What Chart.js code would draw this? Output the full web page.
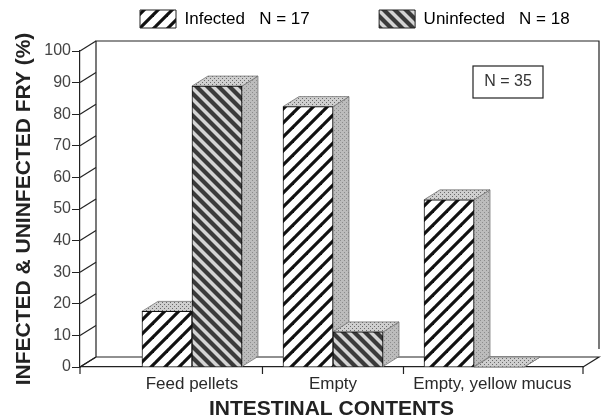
<!DOCTYPE html>
<html>
<head>
<meta charset="utf-8">
<style>
  html, body { margin: 0; padding: 0; background: #fff; }
  canvas { display: block; }
</style>
<script src="https://cdn.jsdelivr.net/npm/chart.js@4/dist/chart.umd.min.js"></script>
</head>
<body>
<canvas id="myChart" width="604" height="419"></canvas>
<script>
const categories = ['Feed pellets', 'Empty', 'Empty, yellow mucus'];
const infected = [17.6, 82.4, 52.9];
const uninfected = [88.9, 11.1, 0];
const seriesNames = ['Infected\u00a0\u00a0\u00a0N = 17', 'Uninfected\u00a0\u00a0\u00a0N = 18'];
const yTicks = [0, 10, 20, 30, 40, 50, 60, 70, 80, 90, 100];
const sampleNote = 'N = 35';

const fonte = '"Liberation Sans", Arial, sans-serif';
const dx = 16, dy = 10;

function hachura(periodo, desenha) {
    const c = document.createElement('canvas');
    c.width = c.height = periodo;
    desenha(c.getContext('2d'), periodo);
    return c.getContext('2d').createPattern(c, 'repeat');
}

function linhaDiag(g, p, cor, larg, sobe, desloc) {
    g.strokeStyle = cor;
    g.lineWidth = larg;
    // as linhas passam do ladrilho para nao deixar falhas nos cantos
    for (let k = -2 * p; k <= 2 * p; k += p) {
        g.beginPath();
        if (sobe) {
            g.moveTo(k + desloc - p, 2 * p);
            g.lineTo(k + desloc + 2 * p, -p);
        } else {
            g.moveTo(k + desloc - p, -p);
            g.lineTo(k + desloc + 2 * p, 2 * p);
        }
        g.stroke();
    }
}

const padraoInfected = hachura(14, (g, p) => {
    g.fillStyle = '#fff';
    g.fillRect(0, 0, p, p);
    linhaDiag(g, p, '#111', 3.2, true, 0);
});

const padraoUninfected = hachura(11, (g, p) => {
    g.fillStyle = '#d4d4d4';
    g.fillRect(0, 0, p, p);
    linhaDiag(g, p, '#3a3a3a', 4.2, false, 0);
});

function pontilhado(fundo, ponto) {
    return hachura(4, (g, p) => {
        g.fillStyle = fundo;
        g.fillRect(0, 0, p, p);
        g.fillStyle = ponto;
        g.fillRect(0, 0, 1, 1);
        g.fillRect(2, 2, 1, 1);
    });
}
const padraoTopo = pontilhado('#cfcfcf', '#6a6a6a');
const padraoLado = pontilhado('#bcbcbc', '#8c8c8c');

function poligono(ctx, pts, fill) {
    ctx.beginPath();
    pts.forEach((p, i) => i ? ctx.lineTo(p[0], p[1]) : ctx.moveTo(p[0], p[1]));
    ctx.closePath();
    ctx.fillStyle = fill;
    ctx.fill();
    ctx.lineWidth = 0.8;
    ctx.strokeStyle = '#777';
    ctx.stroke();
}

const caixa3d = {
    id: 'caixa3d',
    afterLayout(chart) {
        // a legenda fica deslocada em relacao ao centro do grafico
        chart.legend.left = 132;
        chart.legend.right = 604;
        chart.legend.top = 2;
    },
    beforeDatasetsDraw(chart) {
        const ctx = chart.ctx;
        const a = chart.chartArea;
        const x = chart.scales.x;
        ctx.save();
        ctx.strokeStyle = '#222';
        ctx.lineWidth = 1.2;

        // paredes do fundo e chao
        ctx.beginPath();
        ctx.moveTo(a.left + dx, a.bottom - dy);
        ctx.lineTo(a.left + dx, a.top - dy);
        ctx.lineTo(a.right + dx, a.top - dy);
        ctx.lineTo(a.right + dx, a.bottom - dy - 8);
        ctx.moveTo(a.left, a.bottom);
        ctx.lineTo(a.left + dx, a.bottom - dy);
        ctx.lineTo(a.right + dx, a.bottom - dy);
        ctx.lineTo(a.right, a.bottom);
        ctx.stroke();

        // diagonais de cada tick do eixo y
        const y = chart.scales.y;
        y.ticks.forEach(t => {
            const py = y.getPixelForValue(t.value);
            ctx.beginPath();
            ctx.moveTo(a.left, py);
            ctx.lineTo(a.left + dx, py - dy);
            ctx.stroke();
        });

        // marcas do eixo x, entre as categorias
        [x.min, 0.5, 1.5, x.max].forEach(v => {
            const px = x.getPixelForValue(v);
            ctx.beginPath();
            ctx.moveTo(px, a.bottom);
            ctx.lineTo(px, a.bottom + 7);
            ctx.stroke();
        });

        // faces de cima e do lado das barras
        chart.data.datasets.forEach((ds, i) => {
            chart.getDatasetMeta(i).data.forEach(bar => {
                const esq = bar.x - bar.width / 2;
                const dir = bar.x + bar.width / 2;
                poligono(ctx, [[dir, bar.y], [dir + dx, bar.y - dy], [dir + dx, bar.base - dy], [dir, bar.base]], padraoLado);
                poligono(ctx, [[esq, bar.y], [esq + dx, bar.y - dy], [dir + dx, bar.y - dy], [dir, bar.y]], padraoTopo);
            });
        });
        ctx.restore();
    },
    afterDraw(chart) {
        const ctx = chart.ctx;
        const a = chart.chartArea;
        ctx.save();
        ctx.strokeStyle = '#222';
        ctx.lineWidth = 1.2;
        ctx.strokeRect(473, a.top + 15, 70, 32);
        ctx.fillStyle = '#333';
        ctx.font = '16px ' + fonte;
        ctx.textAlign = 'center';
        ctx.textBaseline = 'middle';
        ctx.fillText(sampleNote, 508, a.top + 31);
        ctx.restore();
    }
};

const ctx = document.getElementById('myChart').getContext('2d');
new Chart(ctx, {
    type: 'bar',
    data: {
        datasets: [{
            label: seriesNames[0],
            data: infected.map((v, i) => ({ x: i, y: v })),
            backgroundColor: padraoInfected,
            borderColor: '#111',
            borderWidth: 1,
            barThickness: 50
        }, {
            label: seriesNames[1],
            data: uninfected.map((v, i) => ({ x: i, y: v })),
            backgroundColor: padraoUninfected,
            borderColor: '#111',
            borderWidth: 1,
            barThickness: 50
        }]
    },
    plugins: [caixa3d],
    options: {
        responsive: false,
        animation: false,
        layout: { padding: { left: 12, right: 21, top: 15, bottom: 0 } },
        plugins: {
            tooltip: { enabled: false },
            legend: {
                display: true,
                position: 'top',
                align: 'start',
                labels: {
                    boxWidth: 36,
                    boxHeight: 18,
                    padding: 8,
                    color: '#333',
                    font: { family: fonte, size: 17 },
                    generateLabels(chart) {
                        return chart.data.datasets.map((ds, i) => ({
                            text: i === 0 ? ds.label + '\u00a0'.repeat(13) : ds.label,
                            fillStyle: ds.backgroundColor,
                            strokeStyle: '#222',
                            lineWidth: 1,
                            datasetIndex: i
                        }));
                    }
                }
            }
        },
        scales: {
            x: {
                type: 'linear',
                offset: false,
                min: -0.794,
                max: 2.773,
                grid: { display: false },
                border: { display: true, color: '#222', width: 1.2 },
                afterBuildTicks(scale) {
                    // o rotulo da terceira categoria fica a direita do centro do grupo
                    scale.ticks = [{ value: 0 }, { value: 1 }, { value: 2.13 }];
                },
                afterFit(scale) { scale.height = 52; },
                ticks: {
                    autoSkip: false,
                    maxRotation: 0,
                    padding: -1,
                    color: '#2a2a2a',
                    font: { family: fonte, size: 17 },
                    callback: (v, i) => categories[i]
                },
                title: {
                    display: true,
                    text: 'INTESTINAL CONTENTS',
                    color: '#222',
                    padding: { top: 3, bottom: -3 },
                    font: { family: fonte, size: 21, weight: 'bold' }
                }
            },
            y: {
                min: 0,
                max: 100,
                afterBuildTicks(scale) {
                    scale.ticks = yTicks.map(v => ({ value: v }));
                },
                afterFit(scale) { scale.width = 68; },
                grid: { drawOnChartArea: false, drawTicks: true, tickLength: 8, color: '#222' },
                border: { display: true, color: '#222', width: 1.2 },
                ticks: {
                    padding: 1,
                    color: '#444',
                    font: { family: fonte, size: 16 }
                },
                title: {
                    display: true,
                    text: 'INFECTED & UNINFECTED FRY (%)',
                    color: '#222',
                    padding: { top: 0, bottom: 6 },
                    font: { family: fonte, size: 21, weight: 'bold' }
                }
            }
        }
    }
});
</script>
</body>
</html>
